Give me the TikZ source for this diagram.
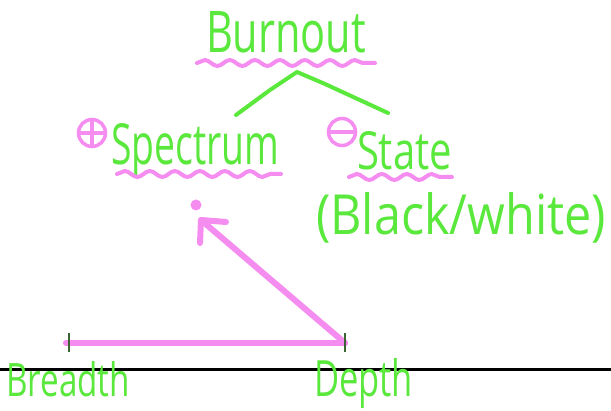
\documentclass[tikz,border=0pt]{standalone}
\usepackage{fontspec}
\setmainfont{Open Sans}
\usetikzlibrary{decorations.pathmorphing}
\definecolor{hgreen}{RGB}{90,232,60}
\definecolor{hpink}{RGB}{245,140,240}
\definecolor{tickgreen}{RGB}{60,100,50}
\newcommand{\hw}[3]{\resizebox{#1pt}{#2pt}{#3}}
\tikzset{
  hand/.style={inner sep=0pt, outer sep=0pt, anchor=base west, text=hgreen},
  wavy/.style={draw=hpink, line width=4pt, line cap=round,
    decorate, decoration={snake, segment length=25pt, amplitude=3pt}},
  greenline/.style={draw=hgreen, line width=4pt, line cap=round, line join=round},
  pinkline/.style={draw=hpink, line width=6pt, line cap=round, line join=round},
  sign/.style={draw=hpink, line width=3.5pt, circle, minimum size=27pt, inner sep=0pt},
}
\begin{document}
\begin{tikzpicture}[x=1pt,y=-1pt]
\useasboundingbox[fill=white] (0,0) rectangle (611,411);

% black rule
\draw[line width=3pt] (0,370) -- (611,370);

% texts
\node[hand] (burnout) at (206,53) {\hw{160}{41}{Burnout}};
\node[hand] (spectrum) at (111,165) {\hw{168}{41}{Spectrum}};
\node[hand] (state) at (357,170) {\hw{95}{38}{State}};
\node[hand] (bw) at (316,235) {\hw{290}{42}{(Black/white)}};
\node[hand] (breadth) at (6,397) {\hw{124}{35}{Breadth}};
\node[hand] (depth) at (314,397) {\hw{99}{38}{Depth}};

% wavy underlines
\draw[wavy] (197,63) -- (375,63);
\draw[wavy] (117,174) -- (281,174);
\draw[wavy] (349,177) -- (452,177);

% caret
\coordinate (capex) at (297,72);
\coordinate (cleft) at (236,115);
\coordinate (cright) at (388,113);
\draw[greenline] (cleft) -- (270,90) -- (capex) -- (325,84) -- (cright);

% plus / minus signs
\node[sign] (plus) at (92,133) {};
\draw[hpink, line width=3.5pt] (plus.north) -- (plus.south) (plus.west) -- (plus.east);
\node[sign] (minus) at (342,132) {};
\draw[hpink, line width=3.5pt] (minus.west) -- (minus.east);

% dot
\node[circle, fill=hpink, minimum size=11pt, inner sep=0pt] (dot) at (196,205) {};

% horizontal line and arrow
\coordinate (bl) at (66,343);
\coordinate (dr) at (345,343);
\coordinate (tip) at (201,220);
\draw[pinkline] (bl) -- (dr);
\draw[pinkline] (dr) -- (tip);
\draw[pinkline] (226,222) -- (tip) -- (200,243);

% end ticks
\draw[tickgreen, line width=2.5pt] (69,333) -- (69,352);
\draw[tickgreen, line width=2.5pt] (345,333) -- (345,352);
\end{tikzpicture}
\end{document}
